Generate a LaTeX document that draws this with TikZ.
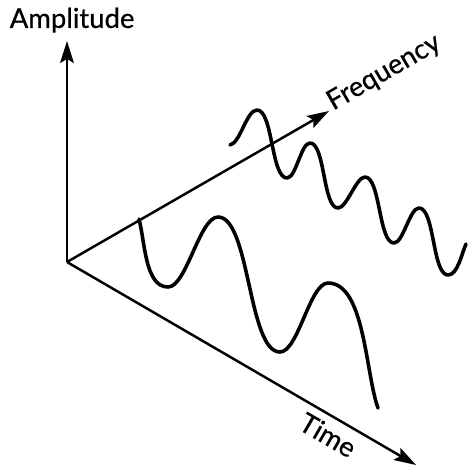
\documentclass[tikz,border=0pt]{standalone}
\usepackage{fontspec}
\setmainfont{Lato}
\newfontfamily\lblfont{Lato}[FakeBold=0.6]
\usetikzlibrary{arrows.meta,positioning}

\begin{document}
\begin{tikzpicture}[
    x=0.0128cm, y=-0.0128cm,
    axis/.style={line width=0.9pt,-{Stealth[length=8pt,width=5pt,inset=1.5pt]}},
    wave/.style={line width=1.3pt,line cap=round,line join=round},
    crest/.style={out=0,in=180,looseness=0.55},
    lbl/.style={font=\lblfont\fontsize{10}{12}\selectfont,inner sep=0pt}
]
\useasboundingbox (0,0) rectangle (467,467);

% axes
\coordinate (origin) at (67,262);
\coordinate (amptip) at (67,41);
\coordinate (freqtip) at (329,111);
\coordinate (timetip) at (416,465);

\draw[axis] (origin) -- (amptip);
\draw[axis] (origin) -- (freqtip);
\draw[axis] (origin) -- (timetip);

\node[lbl,above=0.1cm of amptip,xshift=0.065cm] (amplabel) {Amplitude};
\node[lbl,rotate=30,anchor=base west] (freqlabel) at ([xshift=0.05cm]freqtip) {Frequency};
\node[lbl,rotate=-30] (timelabel) at (328,435) {Time};

% front wave, along time
\draw[wave] (139,219) to[out=-75,in=180,looseness=0.8] (168,287) to[crest] (218,217)
    to[crest] (280,352) to[crest] (328,283) to[out=0,in=110,looseness=0.7] (378,408);

% back wave, higher frequency
\draw[wave] (230,145) to[out=10,in=180,looseness=0.6] (257,110) to[crest] (287,178)
    to[crest] (310,143) to[crest] (338,208) to[crest] (365,177)
    to[crest] (394,243) to[crest] (419,208) to[crest] (448,275)
    to[out=0,in=-115,looseness=0.7] (466,244);
\end{tikzpicture}
\end{document}
